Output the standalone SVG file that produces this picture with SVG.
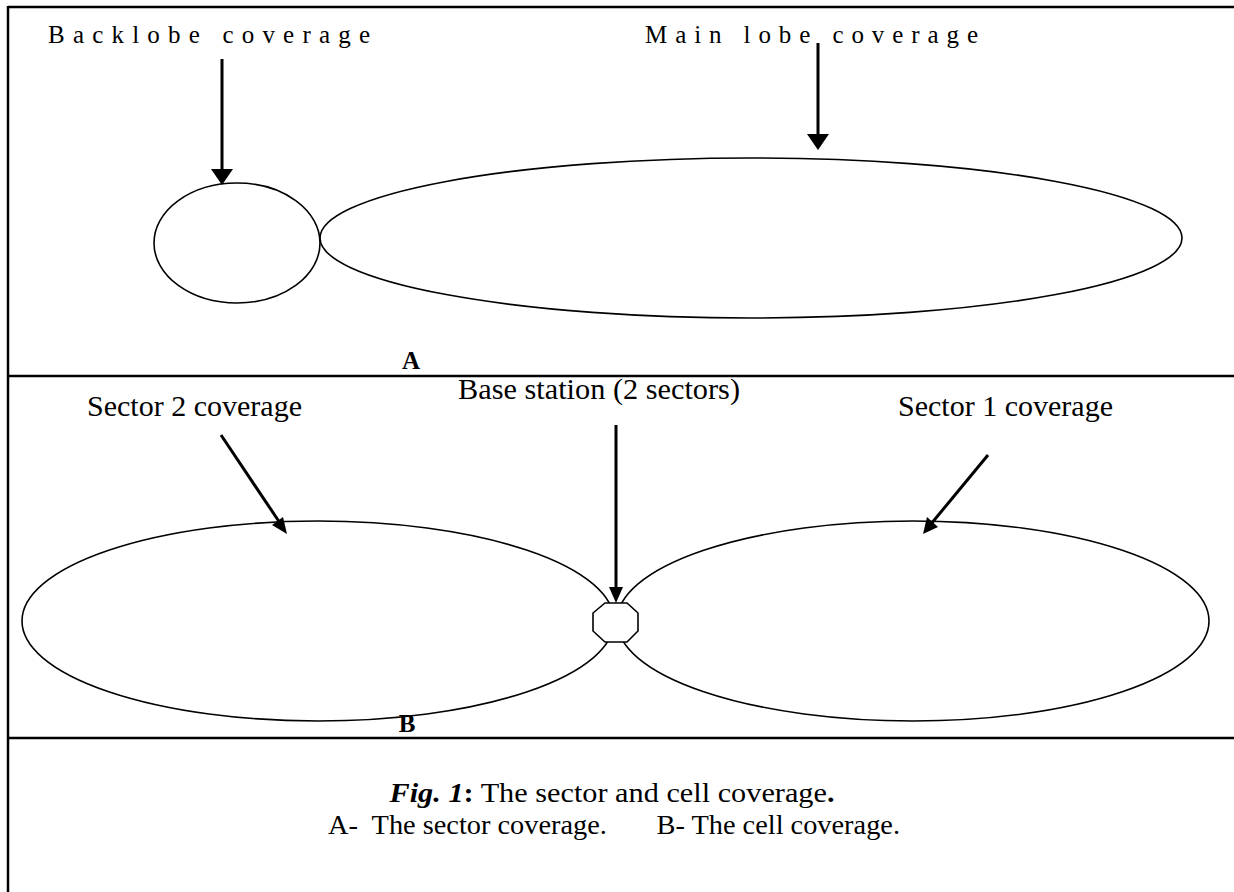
<svg xmlns="http://www.w3.org/2000/svg" width="1234" height="892" viewBox="0 0 1234 892">
<style>
.frame{stroke:#000;stroke-width:2.5;fill:none}
.lobe{stroke:#000;stroke-width:1.6;fill:none}
.shaft{stroke:#000;stroke-width:3;fill:none}
.head{fill:#000}
.lbl{font-family:"Liberation Serif","Times New Roman",serif;fill:#000}
.sp{font-size:25px}
.nm{font-size:29px}
.bold{font-weight:bold;font-size:25px}
</style>
<rect width="1234" height="892" fill="#fff"/>
<g id="frame">
<line class="frame" x1="8" y1="7" x2="1234" y2="7"/>
<line class="frame" x1="8" y1="6" x2="8" y2="892"/>
<line class="frame" x1="8" y1="376" x2="1234" y2="376"/>
<line class="frame" x1="8" y1="738" x2="1234" y2="738"/>
</g>
<g id="backlobe">
<ellipse class="lobe" cx="237" cy="243" rx="83" ry="60"/>
<text class="lbl sp" x="48" y="43" textLength="322" lengthAdjust="spacing">Backlobe coverage</text>
</g>
<g id="mainlobe">
<ellipse class="lobe" cx="751" cy="238" rx="431" ry="80"/>
<text class="lbl sp" x="645" y="43" textLength="333" lengthAdjust="spacing">Main lobe coverage</text>
</g>
<text class="lbl bold" x="411" y="369" text-anchor="middle">A</text>
<g id="sector2">
<ellipse class="lobe" cx="318" cy="621" rx="296" ry="100"/>
<text class="lbl nm" x="87" y="416" textLength="215" lengthAdjust="spacingAndGlyphs">Sector 2 coverage</text>
</g>
<g id="sector1">
<ellipse class="lobe" cx="913" cy="621" rx="296" ry="100"/>
<text class="lbl nm" x="898" y="416" textLength="215" lengthAdjust="spacingAndGlyphs">Sector 1 coverage</text>
</g>
<g id="basestation">
<polygon points="605,603 627,603 638,613 638,631 627,642 605,642 593,631 593,613" fill="#fff" stroke="#000" stroke-width="1.6"/>
<text class="lbl nm" x="458" y="399" textLength="282" lengthAdjust="spacingAndGlyphs">Base station (2 sectors)</text>
</g>
<text class="lbl bold" x="407" y="732" text-anchor="middle">B</text>
<g id="connectors">
<line class="shaft" x1="222" y1="59" x2="222" y2="172"/>
<polygon class="head" points="211,169 233,169 222,185"/>
<line class="shaft" x1="818" y1="43" x2="818" y2="137"/>
<polygon class="head" points="807,134 829,134 818,150"/>
<line class="shaft" x1="616" y1="425" x2="616" y2="590"/>
<polygon class="head" points="609,587 623,587 616,603"/>
<line class="shaft" x1="221" y1="435" x2="280" y2="523"/>
<polygon class="head" points="287,534 272,525 283,517"/>
<line class="shaft" x1="988" y1="455" x2="931" y2="524"/>
<polygon class="head" points="923,534 927,517 938,527"/>
</g>
<g id="caption">
<text class="lbl" style="font-size:27px" x="612" y="802" text-anchor="middle" textLength="445" lengthAdjust="spacingAndGlyphs"><tspan font-weight="bold" font-style="italic">Fig. 1</tspan><tspan font-weight="bold">:</tspan> The sector and cell coverage<tspan font-weight="bold">.</tspan></text>
<text class="lbl" style="font-size:27px" x="614" y="834" text-anchor="middle" textLength="572" lengthAdjust="spacingAndGlyphs" xml:space="preserve">A-  The sector coverage.       B- The cell coverage.</text>
</g>
</svg>
